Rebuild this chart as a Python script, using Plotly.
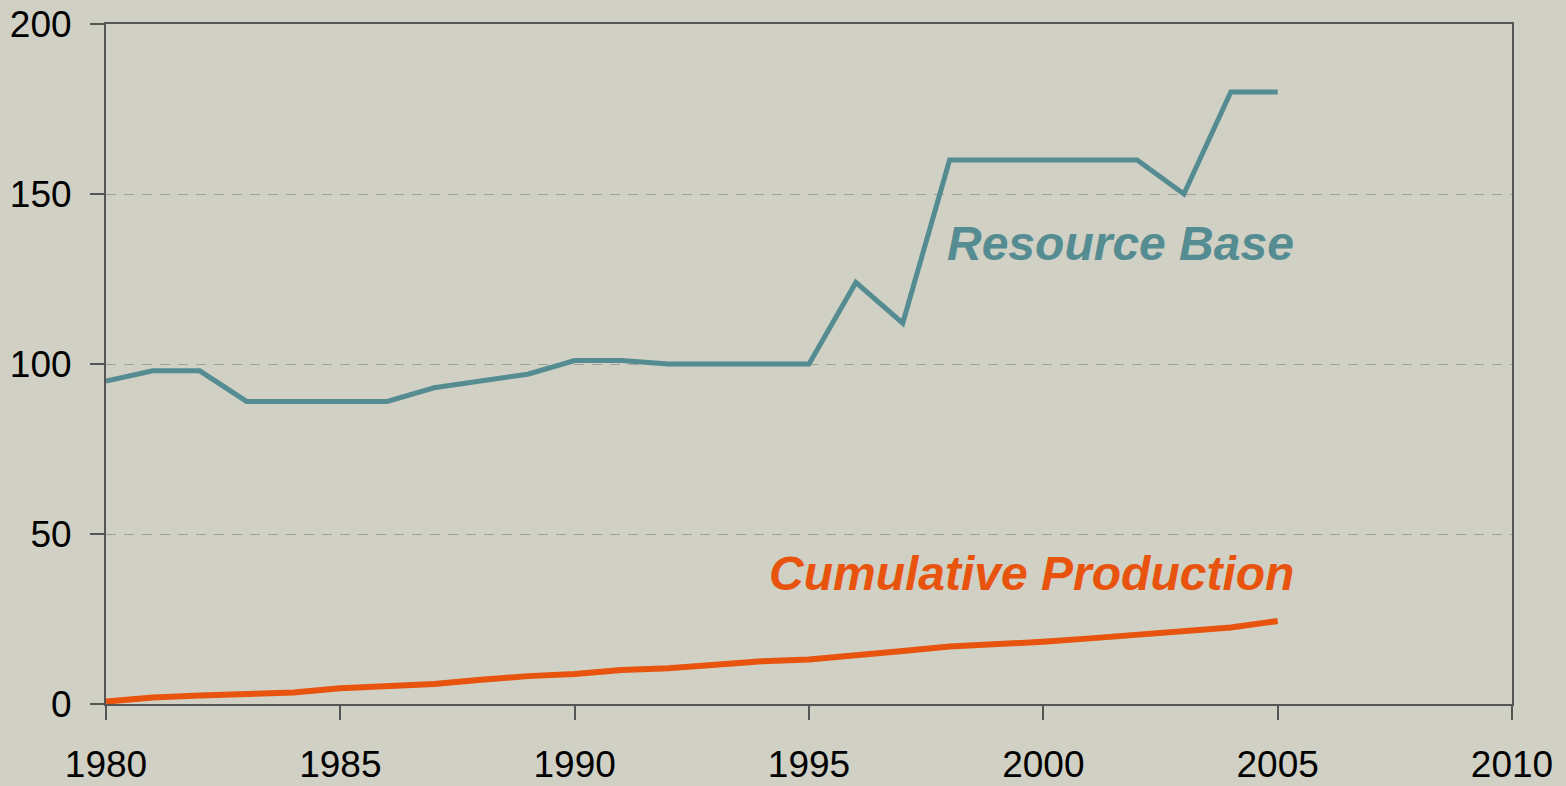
import plotly.graph_objects as go

years = list(range(1980, 2006))
resource_base = [95, 98, 98, 89, 89, 89, 89, 93, 95, 97, 101, 101, 100, 100, 100, 100,
                 124, 112, 160, 160, 160, 160, 160, 150, 180, 180]
cumulative_production = [0.7, 1.9, 2.5, 3.0, 3.4, 4.6, 5.2, 5.9, 7.1, 8.2, 8.8, 10.0, 10.5,
                         11.5, 12.6, 13.1, 14.2, 15.6, 16.9, 17.4, 18.3, 19.3, 20.3, 21.3,
                         22.5, 24.4]
x_ticks = [1980, 1985, 1990, 1995, 2000, 2005, 2010]
y_ticks = [0, 50, 100, 150, 200]

TEAL = "#548C92"
ORANGE = "#E8530E"
BG = "#D0D0C4"

fig = go.Figure()
fig.add_trace(go.Scatter(x=years, y=resource_base, mode="lines",
                         line=dict(color=TEAL, width=5), name="Resource Base"))
fig.add_trace(go.Scatter(x=years, y=cumulative_production, mode="lines",
                         line=dict(color=ORANGE, width=6), name="Cumulative Production"))

label_font = dict(family="Liberation Sans, Arial, sans-serif", size=48)
fig.add_annotation(x=2005.4, y=135.3, xref="x", yref="y", text="<b><i>Resource Base</i></b>",
                   showarrow=False, xanchor="right", yanchor="middle",
                   font=dict(color=TEAL, **label_font))
fig.add_annotation(x=2005.4, y=38.5, xref="x", yref="y", text="<b><i>Cumulative Production</i></b>",
                   showarrow=False, xanchor="right", yanchor="middle",
                   font=dict(color=ORANGE, **label_font))

tick_font = dict(family="Liberation Sans, Arial, sans-serif", size=37, color="black")

fig.update_xaxes(range=[1980, 2010], tickvals=x_ticks, ticktext=[str(v) for v in x_ticks],
                 showgrid=False, zeroline=False, automargin=False,
                 showline=True, linecolor="#555555", linewidth=2, mirror=True,
                 ticks="outside", ticklen=14, tickwidth=2, tickcolor="#555555",
                 ticklabelstandoff=13, tickfont=tick_font)
fig.update_yaxes(range=[0, 200], tickvals=y_ticks, ticktext=[str(v) for v in y_ticks],
                 showgrid=True, gridcolor="#A0A09A", griddash="10px,8px", gridwidth=1,
                 zeroline=False, automargin=False,
                 showline=True, linecolor="#555555", linewidth=2, mirror=True,
                 ticks="outside", ticklen=14, tickwidth=2, tickcolor="#555555",
                 ticklabelstandoff=11, tickfont=tick_font)

fig.update_layout(width=1566, height=786, showlegend=False,
                  paper_bgcolor=BG, plot_bgcolor=BG,
                  margin=dict(l=106, r=54, t=24, b=82, autoexpand=False))

fig.write_html("out.html", config={"displayModeBar": False},
               post_script="document.body.style.margin='0';document.body.style.overflow='hidden';")
